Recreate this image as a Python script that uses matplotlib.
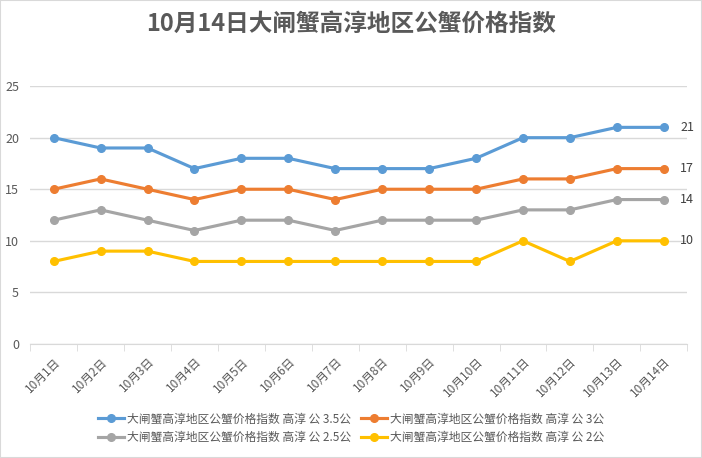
import matplotlib
matplotlib.use('Agg')
import matplotlib.pyplot as plt
from matplotlib.patches import Rectangle

plt.rcParams['font.family'] = ['Noto Sans CJK SC', 'DejaVu Sans']

# data
dates = ['10月1日', '10月2日', '10月3日', '10月4日', '10月5日', '10月6日', '10月7日',
         '10月8日', '10月9日', '10月10日', '10月11日', '10月12日', '10月13日', '10月14日']
s35 = [20, 19, 19, 17, 18, 18, 17, 17, 17, 18, 20, 20, 21, 21]
s3 = [15, 16, 15, 14, 15, 15, 14, 15, 15, 15, 16, 16, 17, 17]
s25 = [12, 13, 12, 11, 12, 12, 11, 12, 12, 12, 13, 13, 14, 14]
s2 = [8, 9, 9, 8, 8, 8, 8, 8, 8, 8, 10, 8, 10, 10]
names = ['大闸蟹高淳地区公蟹价格指数 高淳 公 3.5公',
         '大闸蟹高淳地区公蟹价格指数 高淳 公 3公',
         '大闸蟹高淳地区公蟹价格指数 高淳 公 2.5公',
         '大闸蟹高淳地区公蟹价格指数 高淳 公 2公']
colors = ['#5B9BD5', '#ED7D31', '#A5A5A5', '#FFC000']

fig = plt.figure(figsize=(7.02, 4.58), dpi=100)
ax = fig.add_axes([0.043, 0.249, 0.936, 0.563])
fig.patches.append(Rectangle((0, 0), 1, 1, transform=fig.transFigure,
                             fill=False, edgecolor='#D9D9D9', linewidth=1.5))

x = list(range(len(dates)))
lines = []
for vals, c, n in zip([s35, s3, s25, s2], colors, names):
    ln, = ax.plot(x, vals, color=c, linewidth=2.25, marker='o', markersize=5.5,
                  label=n, zorder=3)
    lines.append(ln)
    ax.text(x[-1] + 0.35, vals[-1], str(vals[-1]), fontsize=9, color='#404040',
            va='center', ha='left')

ax.set_xlim(-0.5, len(dates) - 0.5)
ax.set_ylim(0, 25)
ax.set_yticks([0, 5, 10, 15, 20, 25])
ax.yaxis.grid(True, color='#D9D9D9', linewidth=1)
ax.set_axisbelow(True)
for s in ['top', 'right', 'left']:
    ax.spines[s].set_visible(False)
ax.spines['bottom'].set_color('#D9D9D9')
ax.tick_params(axis='y', length=0, labelsize=9, labelcolor='#595959', pad=8)

ax.set_xticks(x)
ax.set_xticklabels(dates, rotation=45, ha='right', rotation_mode='anchor')
ax.tick_params(axis='x', which='major', length=0, labelsize=8.5, labelcolor='#595959', pad=8)
ax.set_xticks([i - 0.5 for i in range(len(dates) + 1)], minor=True)
ax.tick_params(axis='x', which='minor', length=5, color='#D9D9D9')

fig.text(0.5, 0.948, '10月14日大闸蟹高淳地区公蟹价格指数', ha='center', va='center',
         fontsize=17, fontweight='bold', color='#595959')

# legend fills row by row in the reference
order = [0, 2, 1, 3]
fig.legend(handles=[lines[i] for i in order], loc='center', bbox_to_anchor=(0.5, 0.065),
           ncol=2, frameon=False, fontsize=8.5, handlelength=2.2, columnspacing=0.8,
           handletextpad=0.3, labelspacing=0.45, labelcolor='#595959')

fig.savefig('out.png', dpi=100)
